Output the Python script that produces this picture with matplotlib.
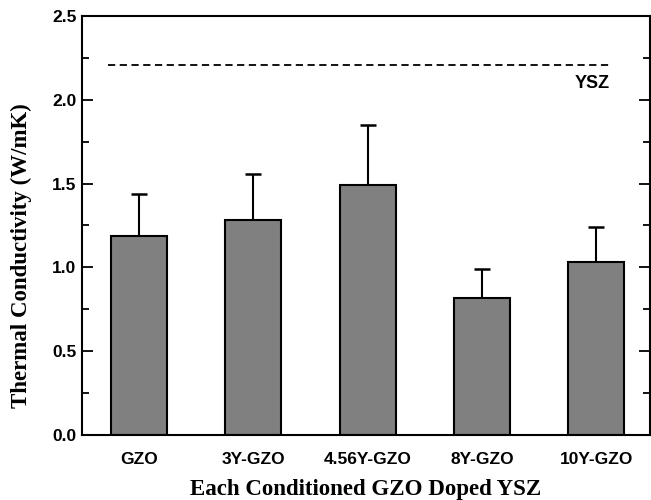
import matplotlib
matplotlib.use("Agg")
import matplotlib.pyplot as plt
from matplotlib.ticker import MultipleLocator

categories = ["GZO", "3Y-GZO", "4.56Y-GZO", "8Y-GZO", "10Y-GZO"]
conductivity = [1.19, 1.28, 1.49, 0.82, 1.03]
errors = [0.25, 0.28, 0.36, 0.17, 0.21]
ysz_value = 2.21
ysz_label = "YSZ"
y_ticks = [0.0, 0.5, 1.0, 1.5, 2.0, 2.5]

fig = plt.figure(figsize=(6.51, 5.0), dpi=100)
ax = fig.add_axes([82/651, 1 - 435/500, 568/651, 419/500])

x = list(range(len(categories)))
ax.bar(x, conductivity, width=0.49, color="#808080", edgecolor="black",
       linewidth=1.5, zorder=2)
ax.errorbar(x, conductivity, yerr=[[0]*len(errors), errors], fmt="none",
            ecolor="black", elinewidth=1.5, capsize=6, capthick=1.8, zorder=1)

ax.plot([-0.27, 4.12], [ysz_value, ysz_value], color="black", lw=1.3,
        linestyle=(0, (4, 2.5)))
ax.text(4.12, 2.10, ysz_label, ha="right", va="center", fontsize=13,
        fontweight="bold", family="Liberation Sans")

ax.set_xlim(-0.5, 4.47)
ax.set_ylim(0, 2.5)
ax.set_xticks(x)
ax.set_xticklabels(categories, fontsize=12.5, fontweight="bold",
                   family="Liberation Sans")
ax.set_yticks(y_ticks)
ax.set_yticklabels([f"{v:.1f}" for v in y_ticks], fontsize=12.5,
                   fontweight="bold", family="Liberation Sans")
ax.yaxis.set_minor_locator(MultipleLocator(0.25))
ax.tick_params(axis="y", which="major", direction="in", length=8, width=1.3,
               right=True, pad=4)
ax.tick_params(axis="y", which="minor", direction="in", length=5, width=1.3,
               right=True)
ax.tick_params(axis="x", length=0, pad=12)
for s in ax.spines.values():
    s.set_linewidth(1.5)

ax.set_xlabel("Each Conditioned GZO Doped YSZ", fontsize=16.5, fontweight="bold",
              family="Liberation Serif", labelpad=9)
ax.set_ylabel("Thermal Conductivity (W/mK)", fontsize=16.5, fontweight="bold",
              family="Liberation Serif")
ax.yaxis.set_label_coords(-50/568, 0.427)

fig.savefig("out.png", dpi=100)
